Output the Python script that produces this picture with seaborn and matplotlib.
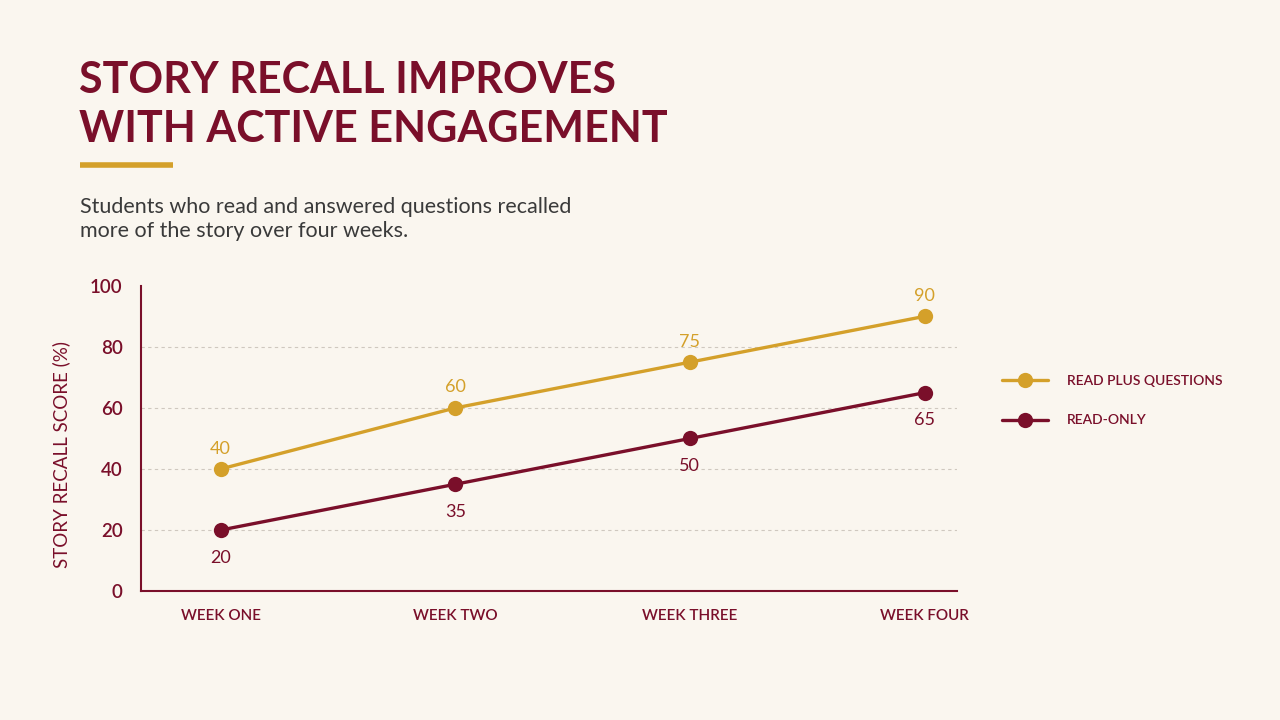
import numpy as np
import matplotlib.pyplot as plt
import seaborn as sns
import pandas as pd
from matplotlib.lines import Line2D

# data
weeks = ['WEEK ONE', 'WEEK TWO', 'WEEK THREE', 'WEEK FOUR']
read_plus_questions = [40, 60, 75, 90]
read_only = [20, 35, 50, 65]
series_names = ['READ PLUS QUESTIONS', 'READ-ONLY']

BG = '#faf6ef'
MAROON = '#7a0f2a'
GOLD = '#d4a02a'
GREY = '#3a3a3a'

sns.set_style('white')
plt.rcParams['font.family'] = ['Lato', 'DejaVu Sans']

df = pd.DataFrame({
    'week': weeks * 2,
    'x': list(range(len(weeks))) * 2,
    'score': read_plus_questions + read_only,
    'series': [series_names[0]] * 4 + [series_names[1]] * 4,
})
palette = {series_names[0]: GOLD, series_names[1]: MAROON}

fig = plt.figure(figsize=(12.8, 7.2), dpi=100, facecolor=BG)
ax = fig.add_axes([0.110, 0.179, 0.638, 0.424])
ax.set_facecolor(BG)

sns.lineplot(data=df, x='x', y='score', hue='series', palette=palette,
             marker='o', markersize=11, markeredgewidth=0, linewidth=2.4,
             legend=False, ax=ax)

# value labels
for i, v in enumerate(read_plus_questions):
    ax.annotate(str(v), (i, v), xytext=(0, 9), textcoords='offset points',
                ha='center', va='bottom', fontsize=13, color=GOLD)
for i, v in enumerate(read_only):
    ax.annotate(str(v), (i, v), xytext=(0, -14), textcoords='offset points',
                ha='center', va='top', fontsize=13, color=MAROON)

ax.set_xlim(-0.34, 3.14)
ax.set_ylim(0, 100)
ax.set_xticks(range(len(weeks)))
ax.set_xticklabels(weeks, fontsize=11, fontweight='semibold', color=MAROON)
ax.set_yticks([0, 20, 40, 60, 80, 100])
ax.set_yticklabels(['0', '20', '40', '60', '80', '100'], fontsize=13.5,
                   fontweight='semibold', color=MAROON)
ax.tick_params(axis='both', length=0)
ax.tick_params(axis='x', pad=13)
ax.tick_params(axis='y', pad=13)
ax.set_xlabel('')
ax.set_ylabel('STORY RECALL SCORE (%)', fontsize=13.5, color=MAROON)
ax.yaxis.set_label_coords(-0.087, 0.446)

for y in [20, 40, 60, 80]:
    ax.axhline(y, color='#cfc8bf', linestyle=(0, (3, 3)), linewidth=0.8, zorder=0)

for s in ['top', 'right']:
    ax.spines[s].set_visible(False)
for s in ['left', 'bottom']:
    ax.spines[s].set_color(MAROON)
    ax.spines[s].set_linewidth(1.5)

# legend
handles = [Line2D([0], [0], color=GOLD, lw=2.4, marker='o', markersize=11, markeredgewidth=0),
           Line2D([0], [0], color=MAROON, lw=2.4, marker='o', markersize=11, markeredgewidth=0)]
leg = fig.legend(handles, series_names, loc='upper left', bbox_to_anchor=(0.773, 0.497),
                 frameon=False, handlelength=3.3, handletextpad=1.4, labelspacing=2.0,
                 prop={'size': 10, 'weight': 'semibold'})
for t in leg.get_texts():
    t.set_color(MAROON)

# title and subtitle
fig.text(0.0615, 0.917, 'STORY RECALL IMPROVES\nWITH ACTIVE ENGAGEMENT', fontsize=31,
         fontweight='bold', color=MAROON, va='top', ha='left', linespacing=1.27)
fig.add_artist(Line2D([0.0625, 0.135], [0.771, 0.771], color=GOLD, lw=4, solid_capstyle='butt'))
fig.text(0.0625, 0.727, 'Students who read and answered questions recalled\nmore of the story over four weeks.',
         fontsize=15.5, color=GREY, va='top', ha='left', linespacing=1.3)

fig.savefig('out.png', dpi=100, facecolor=BG)
